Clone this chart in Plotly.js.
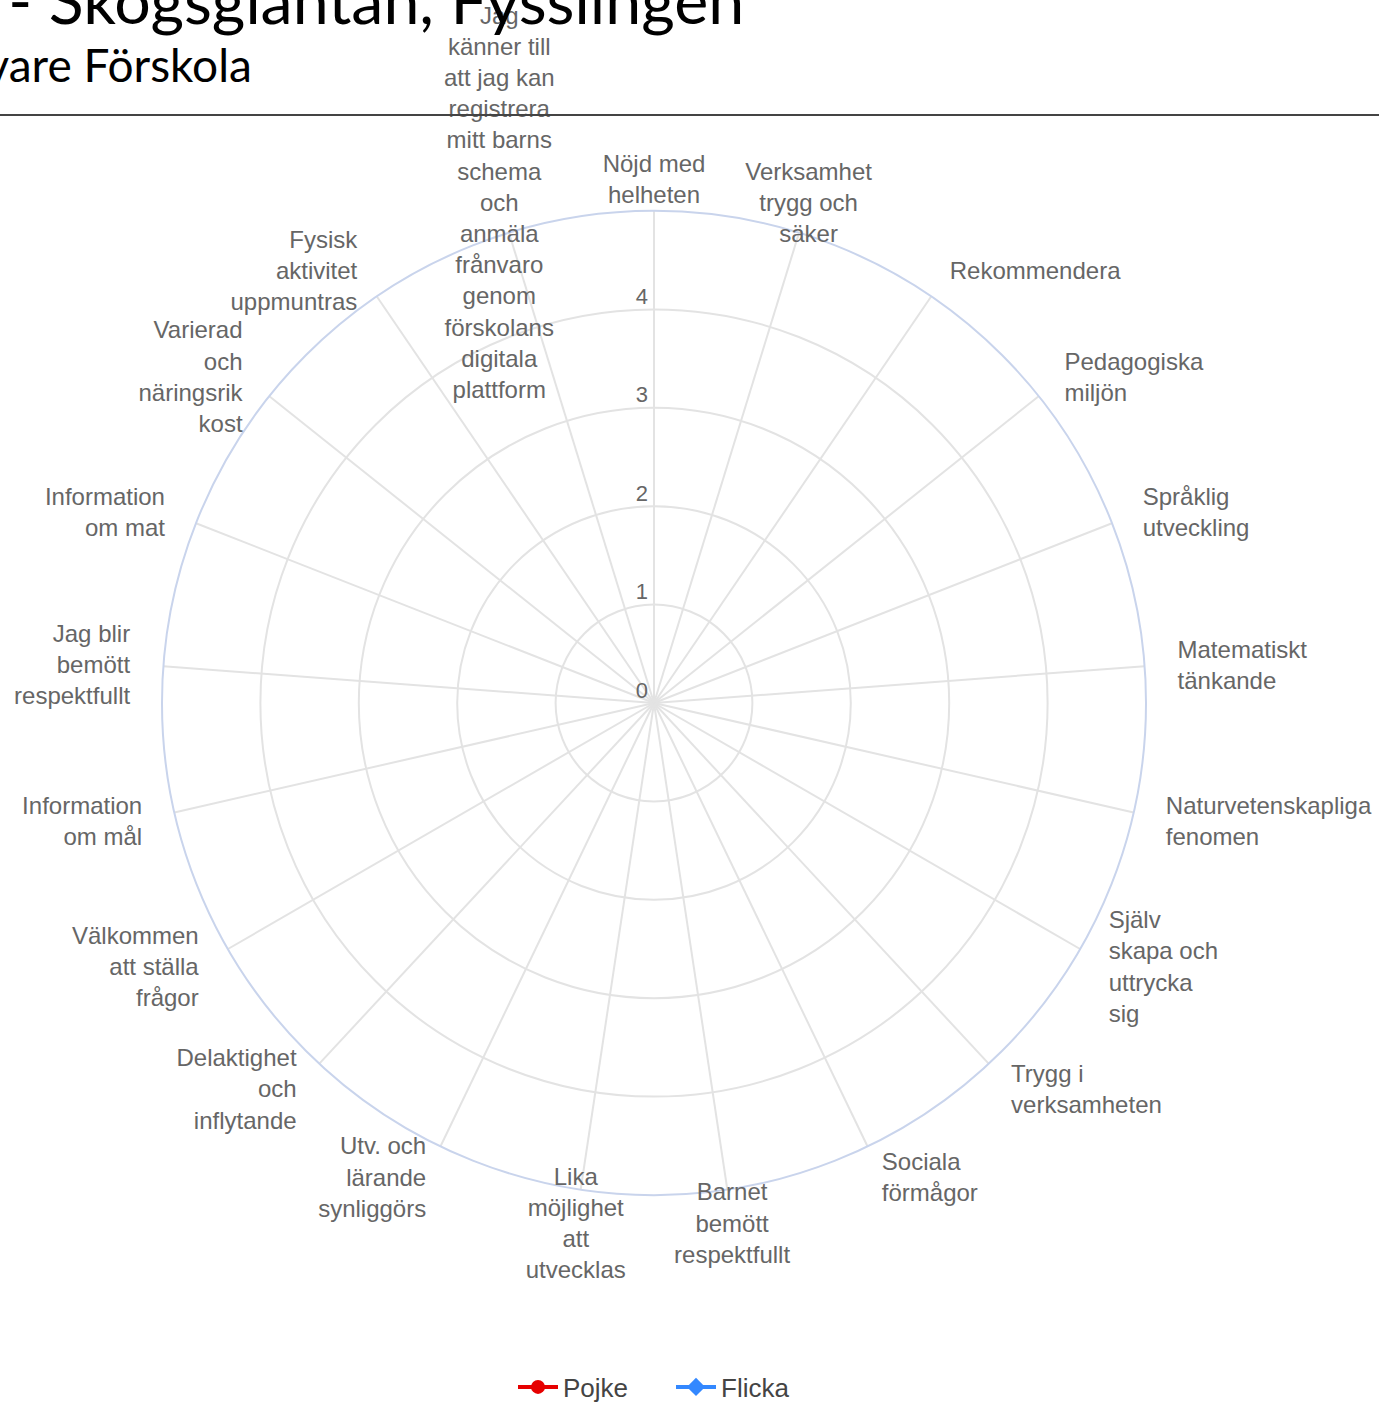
<!DOCTYPE html>
<html>
<head>
<meta charset="utf-8">
<script src="https://cdn.plot.ly/plotly-3.0.1.min.js"></script>
<style>html,body{margin:0;padding:0;background:#fff;}#chart{width:1379px;height:1402px;}</style>
</head>
<body>
<div id="chart"></div>
<script>
const categories = [
  "Nöjd med<br>helheten",
  "Verksamhet<br>trygg och<br>säker",
  "Rekommendera",
  "Pedagogiska<br>miljön",
  "Språklig<br>utveckling",
  "Matematiskt<br>tänkande",
  "Naturvetenskapliga<br>fenomen",
  "Själv<br>skapa och<br>uttrycka<br>sig",
  "Trygg i<br>verksamheten",
  "Sociala<br>förmågor",
  "Barnet<br>bemött<br>respektfullt",
  "Lika<br>möjlighet<br>att<br>utvecklas",
  "Utv. och<br>lärande<br>synliggörs",
  "Delaktighet<br>och<br>inflytande",
  "Välkommen<br>att ställa<br>frågor",
  "Information<br>om mål",
  "Jag blir<br>bemött<br>respektfullt",
  "Information<br>om mat",
  "Varierad<br>och<br>näringsrik<br>kost",
  "Fysisk<br>aktivitet<br>uppmuntras",
  "Jag<br>känner till<br>att jag kan<br>registrera<br>mitt barns<br>schema<br>och<br>anmäla<br>frånvaro<br>genom<br>förskolans<br>digitala<br>plattform"
];
// No values are drawn in the reference: both series are empty.
const pojkeValues = categories.map(() => null);
const flickaValues = categories.map(() => null);
const seriesNames = ["Pojke", "Flicka"];
const radialTicks = [0, 1, 2, 3, 4];
const radialRange = [0, 5];
const titleLine1 = "Förskoleenkät - Skogsgläntan, Fysslingen";
const titleLine2 = "Vårdnadshavare Förskola";

const W = 1379, H = 1402;
const cx = 654, cy = 703, R = 492;
const ROTATION = 90;

const traces = [
  {type: "scatterpolar", name: seriesNames[0], theta: categories, r: pojkeValues,
   mode: "lines+markers", line: {color: "#e60000", width: 4}, marker: {symbol: "circle", size: 14, color: "#e60000"}},
  {type: "scatterpolar", name: seriesNames[1], theta: categories, r: flickaValues,
   mode: "lines+markers", line: {color: "#3388ff", width: 4}, marker: {symbol: "diamond", size: 14, color: "#3388ff"}},
  // radial tick labels, placed on the radial axis through the polar scale
  {type: "scatterpolar", mode: "text", showlegend: false, hoverinfo: "skip", cliponaxis: false,
   theta: radialTicks.map(() => categories[0]), r: radialTicks, text: radialTicks.map(v => v + "\u00a0"),
   textposition: "top left", textfont: {size: 22, color: "#666", family: "Liberation Sans, Arial, sans-serif"}}
];

const layout = {
  width: W, height: H,
  margin: {l: 0, r: 0, t: 0, b: 0, autoexpand: false},
  paper_bgcolor: "#fff",
  font: {family: "Liberation Sans, Arial, sans-serif", color: "#666"},
  showlegend: true,
  legend: {orientation: "h", x: 513 / W, xanchor: "left", y: (H - 1387) / H, yanchor: "middle",
           itemwidth: 40, entrywidth: 103, entrywidthmode: "pixels",
           font: {size: 26, color: "#444"}},
  polar: {
    domain: {x: [(cx - R) / W, (cx + R) / W], y: [(H - cy - R) / H, (H - cy + R) / H]},
    bgcolor: "#fff",
    angularaxis: {
      type: "category", categoryorder: "array", categoryarray: categories,
      rotation: ROTATION, direction: "clockwise",
      showline: true, linecolor: "#c9d4ec", linewidth: 2,
      gridcolor: "#e3e3e3", gridwidth: 2, ticks: "",
      tickfont: {size: 24, color: "#666"}
    },
    radialaxis: {
      range: radialRange, angle: 90, showticklabels: false,
      tickmode: "array", tickvals: radialTicks,
      showline: false, ticks: "", gridcolor: "#e3e3e3", gridwidth: 2
    }
  },
  shapes: [
    {type: "line", xref: "paper", yref: "paper", x0: 0, x1: 1, y0: (H - 115) / H, y1: (H - 115) / H,
     line: {color: "#444", width: 2}}
  ],
  annotations: [
    {xref: "paper", yref: "paper", x: 746 / W, y: (H - 40) / H, xanchor: "right", yanchor: "bottom",
     text: titleLine1, showarrow: false, font: {family: "Lato, sans-serif", size: 64.5, color: "#000"}},
    {xref: "paper", yref: "paper", x: 254 / W, y: (H - 94) / H, xanchor: "right", yanchor: "bottom",
     text: titleLine2, showarrow: false, font: {family: "Lato, sans-serif", size: 46, color: "#000"}}
  ]
};

function shiftText(el, dx, dy) {
  const t = el.getAttribute("transform") || "";
  el.setAttribute("transform", "translate(" + dx + "," + dy + ") " + t);
}

// Highcharts-like placement of the category labels: centred vertically on a ring just
// outside the plot, centred horizontally near the top and bottom.
function placeLabels(gd) {
  const N = categories.length;
  const labelR = R + 33;
  Array.from(gd.querySelectorAll("text")).forEach(el => {
    const raw = el.getAttribute("data-unformatted");
    const content = (raw !== null ? raw : el.textContent).trim();
    const idx = categories.indexOf(content);
    if (idx < 0) return;
    const th = (ROTATION - idx * 360 / N) * Math.PI / 180;
    const c = Math.cos(th), s = Math.sin(th);
    const px = cx + labelR * c, py = cy - labelR * s;
    const anchor = Math.abs(c) < 0.36 ? "middle" : (c > 0 ? "start" : "end");
    el.setAttribute("text-anchor", anchor);
    el.querySelectorAll("tspan").forEach(ts => ts.removeAttribute("text-anchor"));
    const b = el.getBoundingClientRect();
    let dx;
    if (anchor === "middle") dx = px - (b.left + b.width / 2);
    else if (anchor === "start") dx = px - b.left;
    else dx = px - b.right;
    const dy = (py + 1) - (b.top + b.height / 2);
    shiftText(el, dx, dy);
  });
}

Plotly.newPlot("chart", traces, layout, {displayModeBar: false, responsive: false}).then(gd => {
  placeLabels(gd);
});
</script>
</body>
</html>
